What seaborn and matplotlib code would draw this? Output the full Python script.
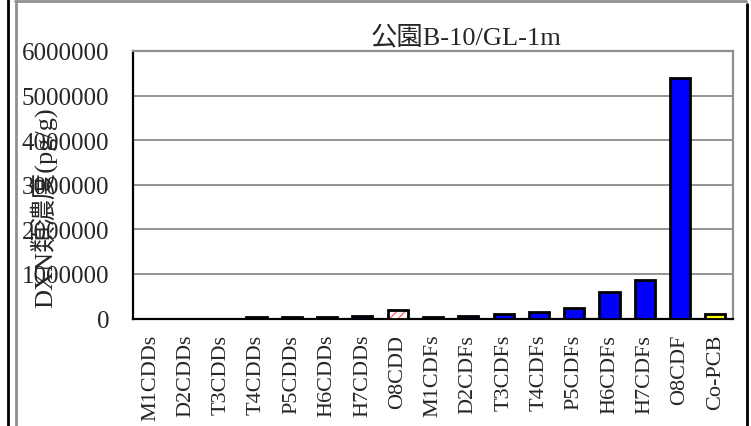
import numpy as np
import pandas as pd
import seaborn as sns
import matplotlib.pyplot as plt
import matplotlib.colors as mcolors
from matplotlib.lines import Line2D

# data (pg/g)
categories = ["M1CDDs", "D2CDDs", "T3CDDs", "T4CDDs", "P5CDDs", "H6CDDs", "H7CDDs", "O8CDD",
              "M1CDFs", "D2CDFs", "T3CDFs", "T4CDFs", "P5CDFs", "H6CDFs", "H7CDFs", "O8CDF",
              "Co-PCB"]
values = [0, 0, 0, 30000, 30000, 35000, 55000, 200000,
          30000, 50000, 90000, 140000, 240000, 590000, 855000, 5390000,
          106000]
bar_colors = ["#0000ff"] * 7 + ["#ffffff"] + ["#0000ff"] * 8 + ["#ffff00"]
y_ticks = [0, 1000000, 2000000, 3000000, 4000000, 5000000, 6000000]
title = "公園B-10/GL-1m"
ylabel = "DXN類濃度(pg/g)"

df = pd.DataFrame({"cat": categories, "val": values})

sns.set_style("white")
plt.rcParams["font.family"] = ["Liberation Serif", "Noto Sans CJK JP"]

W, H = 751, 427
fig = plt.figure(figsize=(W / 100, H / 100), dpi=100)
ax = fig.add_axes([133 / W, 1 - 319.5 / H, 600 / W, 267.5 / H])

sns.barplot(data=df, x="cat", y="val", hue="cat", palette=bar_colors, legend=False,
            edgecolor="black", linewidth=2, width=0.57, saturation=1, ax=ax, zorder=3)

# hatched O8CDD bar
p = ax.patches[categories.index("O8CDD")]
p.set_hatch("////")
p._hatch_color = mcolors.to_rgba("#ff7070")

ax.set_xlim(-0.5, len(categories) - 0.5)
ax.set_ylim(0, 6000000)
ax.set_yticks(y_ticks)
ax.set_yticklabels([str(v) for v in y_ticks])
ax.yaxis.grid(True, color="#808080", lw=1.2, zorder=0)
ax.set_xlabel("")
ax.set_ylabel("")

ax.set_xticks(range(len(categories)))
ax.set_xticklabels(categories, rotation=90, fontsize=16, va="top")
ax.set_xticks(np.arange(0.5, len(categories) - 1, 1), minor=True)
ax.tick_params(axis="x", which="major", length=0, pad=11)
ax.tick_params(axis="x", which="minor", direction="in", length=5, width=1, color="#555555")
ax.tick_params(axis="y", length=0, pad=17, labelsize=18)

for s in ["left", "bottom"]:
    ax.spines[s].set_color("black")
    ax.spines[s].set_linewidth(1.6)
for s in ["top", "right"]:
    ax.spines[s].set_color("#909090")
    ax.spines[s].set_linewidth(1.6)
    ax.spines[s].set_visible(True)

fig.text(466 / W, 1 - 37 / H, title, ha="center", va="center", fontsize=19)
# y label sits over the tick labels, as in the original
fig.text(43 / W, 1 - 208 / H, ylabel, ha="center", va="center", rotation=90, fontsize=19)

# outer chart frame
fig.add_artist(Line2D([7.5 / W, 7.5 / W], [0, 1], color="black", lw=2))
fig.add_artist(Line2D([15.5 / W, 15.5 / W], [0, 1 - 4 / H], color="#909090", lw=2))
fig.add_artist(Line2D([15 / W, 746 / W], [1 - 2 / H, 1 - 2 / H], color="#909090", lw=2))
fig.add_artist(Line2D([747 / W, 747 / W], [0, 1 - 5 / H], color="black", lw=2))

fig.savefig("out.png", dpi=100)
